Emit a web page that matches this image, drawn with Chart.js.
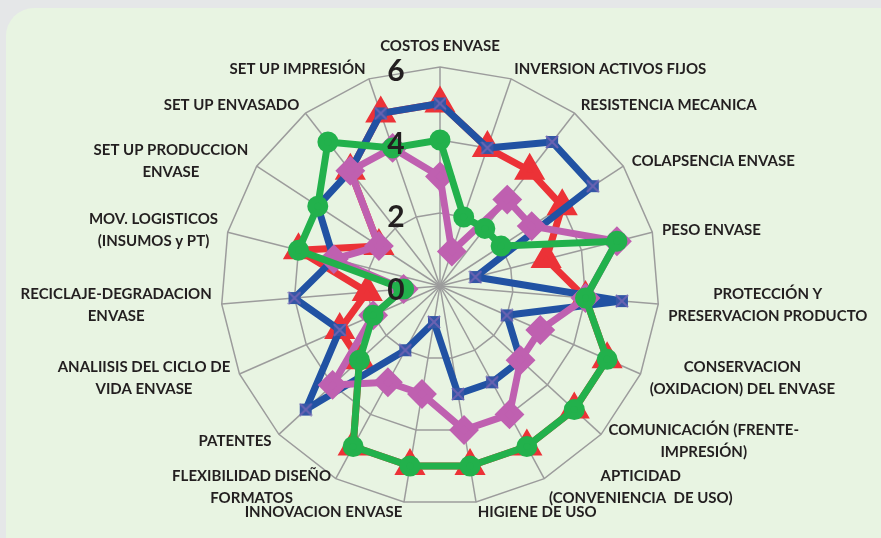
<!DOCTYPE html>
<html>
<head>
<meta charset="utf-8">
<script src="https://cdn.jsdelivr.net/npm/chart.js@4.4.1/dist/chart.umd.min.js"></script>
<style>
  html, body { margin: 0; padding: 0; background: #e5e7e8; }
  #panel { position: absolute; left: 6px; top: 8px; width: 920px; height: 580px; border-radius: 28px; background: #e8f4e2; }
  #wrap { position: absolute; left: 0; top: 0; width: 881px; height: 538px; }
</style>
</head>
<body>
<div id="panel"></div>
<div id="wrap"><canvas id="radar"></canvas></div>
<script>
// categorias del radar (en sentido horario desde arriba)
var categorias = [
    "COSTOS ENVASE",
    "INVERSION ACTIVOS FIJOS",
    "RESISTENCIA MECANICA",
    "COLAPSENCIA ENVASE",
    "PESO ENVASE",
    ["PROTECCIÓN Y", "PRESERVACION PRODUCTO"],
    ["CONSERVACION", "(OXIDACION) DEL ENVASE"],
    ["COMUNICACIÓN (FRENTE-", "IMPRESIÓN)"],
    ["APTICIDAD", "(CONVENIENCIA  DE USO)"],
    "HIGIENE DE USO",
    "INNOVACION ENVASE",
    ["FLEXIBILIDAD DISEÑO", "FORMATOS"],
    "PATENTES",
    ["ANALIISIS DEL CICLO DE", "VIDA ENVASE"],
    ["RECICLAJE-DEGRADACION", "ENVASE"],
    ["MOV. LOGISTICOS", "(INSUMOS y PT)"],
    ["SET UP PRODUCCION", "ENVASE"],
    "SET UP ENVASADO",
    "SET UP IMPRESIÓN"
];

var serieRoja  = [5, 4, 4, 4, 3, 4, 5, 5, 5, 5, 5, 5, 3, 3, 2, 4, 2, 4, 5];
var serieAzul  = [5, 4, 5, 5, 1, 5, 2, 3, 3, 3, 1, 2, 5, 3, 4, 3, 4, 4, 5];
var serieVerde = [4, 2, 2, 2, 5, 4, 5, 5, 5, 5, 5, 5, 3, 2, 1, 4, 4, 5, 4];
var serieRosa  = [3, 1, 3, 3, 5, 4, 3, 3, 4, 4, 3, 3, 4, 2, 1, 3, 2, 4, 4];

var ticksEscala = [0, 2, 4, 6];

// marcador azul con X (estilo Excel)
function marcaX() {
    var c = document.createElement("canvas");
    c.width = 14;
    c.height = 14;
    var g = c.getContext("2d");
    g.fillStyle = "#3456a6";
    g.fillRect(1, 1, 12, 12);
    g.strokeStyle = "#6a63b2";
    g.lineWidth = 2;
    g.beginPath();
    g.moveTo(1, 1); g.lineTo(13, 13);
    g.moveTo(13, 1); g.lineTo(1, 13);
    g.stroke();
    return c;
}

// numeros del eje, encima de las series y corridos a la izquierda
var etiquetasEje = {
    id: "etiquetasEje",
    afterDatasetsDraw: function (chart) {
        var scale = chart.scales.r;
        var ctx = chart.ctx;
        ctx.save();
        ctx.font = "bold 30px Lato";
        ctx.fillStyle = "#231f20";
        ctx.textAlign = "center";
        ctx.textBaseline = "middle";
        ticksEscala.forEach(function (v) {
            var p = scale.getPointPositionForValue(0, v);
            ctx.fillText(String(v), p.x - 44, p.y + 4);
        });
        ctx.restore();
    }
};

// nombres de las categorias, centrados en vertical junto al vertice (como Excel)
var etiquetasCategorias = {
    id: "etiquetasCategorias",
    afterDatasetsDraw: function (chart) {
        var scale = chart.scales.r;
        var ctx = chart.ctx;
        var alto = 22;
        ctx.save();
        ctx.font = "bold 15px Lato";
        ctx.fillStyle = "#231f20";
        ctx.textAlign = "center";
        ctx.textBaseline = "middle";
        categorias.forEach(function (lab, i) {
            var lineas = Array.isArray(lab) ? lab : [lab];
            var p = scale.getPointPosition(i, scale.drawingArea + 10);
            var ang = scale.getIndexAngle(i);
            var s = Math.sin(ang);
            var ancho = 0;
            lineas.forEach(function (t) { ancho = Math.max(ancho, ctx.measureText(t).width); });
            var total = lineas.length * alto;
            var x = p.x;
            var arriba = p.y - total / 2;
            if (Math.abs(s) < 0.01) {
                arriba = Math.cos(ang) > 0 ? p.y - total : p.y;
            } else if (s > 0) {
                x = p.x + ancho / 2;
            } else {
                x = p.x - ancho / 2;
            }
            lineas.forEach(function (t, k) {
                ctx.fillText(t, x, arriba + alto / 2 + k * alto);
            });
        });
        ctx.restore();
    }
};

var ctx = document.getElementById("radar").getContext("2d");
new Chart(ctx, {
    type: "radar",
    data: {
        labels: categorias,
        datasets: [{
            label: "Verde",
            data: serieVerde,
            borderColor: "#22b14c",
            backgroundColor: "#22b14c",
            pointBackgroundColor: "#22b14c",
            pointBorderColor: "#22b14c",
            pointStyle: "circle",
            pointRadius: 7,
            borderWidth: 7,
            fill: false
        }, {
            label: "Rosa",
            data: serieRosa,
            borderColor: "#bf60b0",
            backgroundColor: "#bf60b0",
            pointBackgroundColor: "#bf60b0",
            pointBorderColor: "#bf60b0",
            pointStyle: "rectRot",
            pointRadius: 10,
            borderWidth: 7,
            fill: false
        }, {
            label: "Azul",
            data: serieAzul,
            borderColor: "#2152a3",
            backgroundColor: "#2152a3",
            pointStyle: marcaX(),
            borderWidth: 7,
            fill: false
        }, {
            label: "Rojo",
            data: serieRoja,
            borderColor: "#ec3237",
            backgroundColor: "#ec3237",
            pointBackgroundColor: "#ec3237",
            pointBorderColor: "#ec3237",
            pointStyle: "triangle",
            pointRadius: 11,
            borderWidth: 7,
            fill: false
        }]
    },
    options: {
        responsive: true,
        maintainAspectRatio: false,
        animation: false,
        layout: { padding: { top: 67, bottom: 33, left: 1, right: 1 } },
        plugins: {
            legend: { display: false },
            tooltip: { enabled: false }
        },
        elements: { line: { tension: 0, borderJoinStyle: "round", borderCapStyle: "round" } },
        scales: {
            r: {
                min: 0,
                max: 6,
                ticks: { stepSize: 2, display: false },
                grid: { color: "#9c9c9c", lineWidth: 1.5 },
                angleLines: { color: "#9c9c9c", lineWidth: 1.5 },
                pointLabels: { display: false }
            }
        }
    },
    plugins: [etiquetasEje, etiquetasCategorias]
});
</script>
</body>
</html>
